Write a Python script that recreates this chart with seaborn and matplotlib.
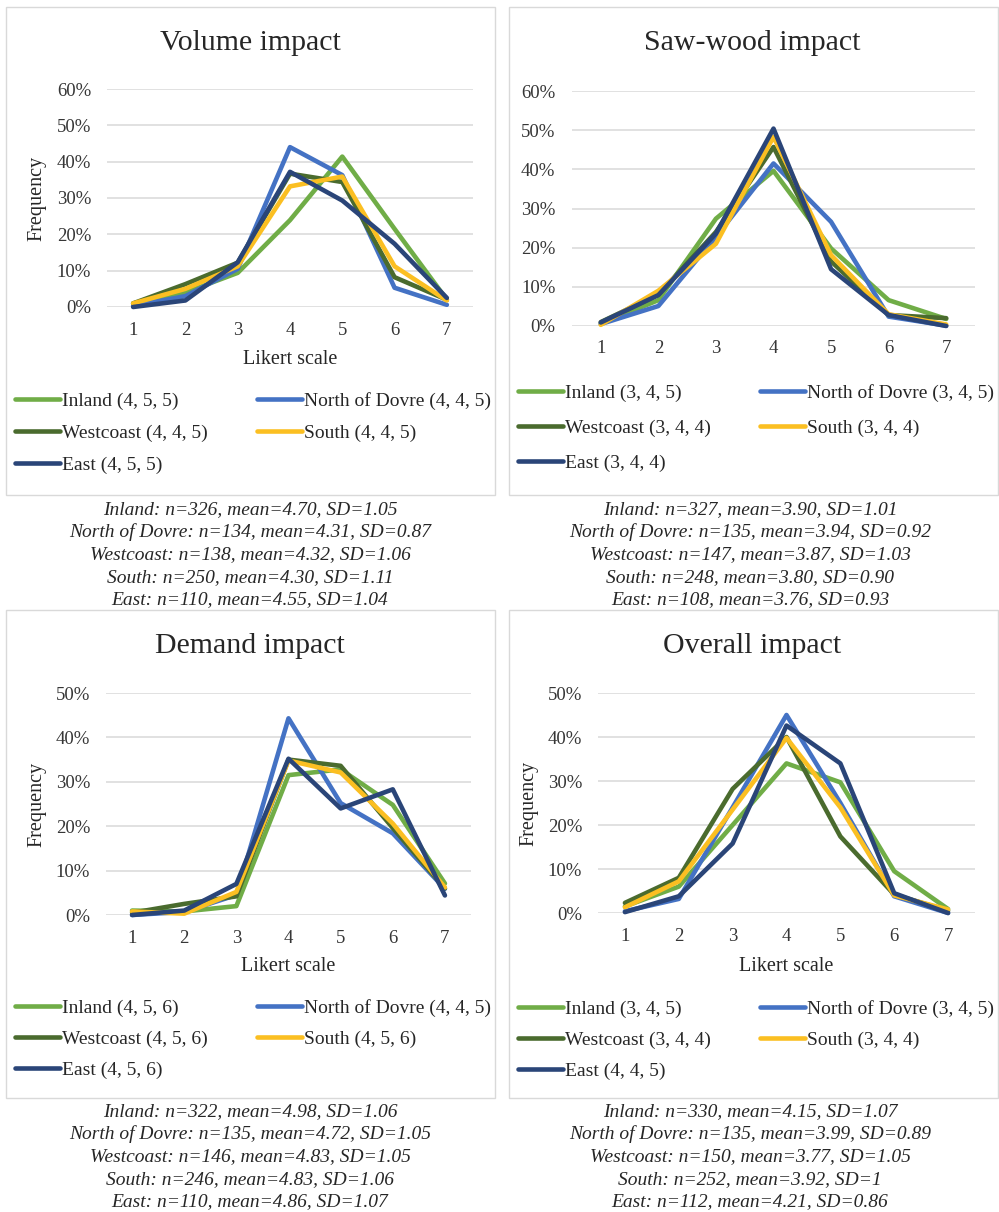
import numpy as np
import pandas as pd
import seaborn as sns
import matplotlib
matplotlib.use("Agg")
import matplotlib.pyplot as plt
from matplotlib.lines import Line2D
from matplotlib.patches import Rectangle
from matplotlib.ticker import PercentFormatter

sns.set_theme(style="white")
plt.rcParams["font.family"] = ["Liberation Serif", "DejaVu Serif"]

# ---------------------------------------------------------------- data
LIKERT = [1, 2, 3, 4, 5, 6, 7]
REGIONS = ["Inland", "North of Dovre", "Westcoast", "South", "East"]
COLORS = ["#70AD47", "#4472C4", "#4A6B2E", "#FBBF22", "#2A4578"]

# share of respondents (%) per Likert score, one list per region
VOLUME = {
    "Inland":         [1.0, 4.0, 9.4, 23.9, 41.4, 21.5, 2.0],
    "North of Dovre": [0.3, 3.0, 10.5, 44.0, 36.3, 5.3, 0.6],
    "Westcoast":      [1.0, 6.3, 12.2, 36.7, 34.4, 8.2, 2.0],
    "South":          [1.0, 5.0, 11.2, 33.2, 35.9, 11.2, 1.8],
    "East":           [0.0, 1.8, 12.3, 37.2, 29.3, 17.4, 2.5],
}
SAWWOOD = {
    "Inland":         [0.6, 6.6, 27.4, 39.6, 19.8, 6.6, 1.8],
    "North of Dovre": [0.5, 5.1, 22.8, 41.5, 26.6, 2.4, 0.1],
    "Westcoast":      [1.0, 8.0, 24.0, 45.7, 16.5, 2.8, 2.0],
    "South":          [0.3, 9.0, 21.0, 48.3, 18.1, 3.0, 0.4],
    "East":           [0.9, 7.9, 23.6, 50.4, 14.5, 2.8, 0.0],
}
DEMAND = {
    "Inland":         [1.0, 0.8, 2.0, 31.5, 32.8, 24.8, 7.1],
    "North of Dovre": [0.0, 0.7, 4.5, 44.3, 25.2, 18.4, 5.9],
    "Westcoast":      [0.5, 2.5, 4.2, 35.0, 33.6, 19.6, 6.0],
    "South":          [0.8, 0.3, 5.2, 34.8, 32.1, 20.6, 6.2],
    "East":           [0.0, 1.0, 7.0, 35.2, 24.0, 28.3, 4.4],
}
OVERALL = {
    "Inland":         [1.5, 6.0, 20.0, 34.0, 29.7, 9.5, 0.9],
    "North of Dovre": [0.4, 3.2, 24.0, 45.0, 25.0, 3.8, 0.0],
    "Westcoast":      [2.3, 8.0, 28.2, 40.0, 17.4, 4.2, 0.5],
    "South":          [1.3, 7.2, 23.5, 39.8, 24.0, 4.0, 0.8],
    "East":           [0.2, 3.8, 15.8, 42.6, 34.0, 4.5, 0.0],
}

# quartiles (Q1, median, Q3) shown in the legend
VOLUME_Q = ["(4, 5, 5)", "(4, 4, 5)", "(4, 4, 5)", "(4, 4, 5)", "(4, 5, 5)"]
SAWWOOD_Q = ["(3, 4, 5)", "(3, 4, 5)", "(3, 4, 4)", "(3, 4, 4)", "(3, 4, 4)"]
DEMAND_Q = ["(4, 5, 6)", "(4, 4, 5)", "(4, 5, 6)", "(4, 5, 6)", "(4, 5, 6)"]
OVERALL_Q = ["(3, 4, 5)", "(3, 4, 5)", "(3, 4, 4)", "(3, 4, 4)", "(4, 4, 5)"]

VOLUME_STATS = [
    "Inland: n=326, mean=4.70, SD=1.05",
    "North of Dovre: n=134, mean=4.31, SD=0.87",
    "Westcoast: n=138, mean=4.32, SD=1.06",
    "South: n=250, mean=4.30, SD=1.11",
    "East: n=110, mean=4.55, SD=1.04",
]
SAWWOOD_STATS = [
    "Inland: n=327, mean=3.90, SD=1.01",
    "North of Dovre: n=135, mean=3.94, SD=0.92",
    "Westcoast: n=147, mean=3.87, SD=1.03",
    "South: n=248, mean=3.80, SD=0.90",
    "East: n=108, mean=3.76, SD=0.93",
]
DEMAND_STATS = [
    "Inland: n=322, mean=4.98, SD=1.06",
    "North of Dovre: n=135, mean=4.72, SD=1.05",
    "Westcoast: n=146, mean=4.83, SD=1.05",
    "South: n=246, mean=4.83, SD=1.06",
    "East: n=110, mean=4.86, SD=1.07",
]
OVERALL_STATS = [
    "Inland: n=330, mean=4.15, SD=1.07",
    "North of Dovre: n=135, mean=3.99, SD=0.89",
    "Westcoast: n=150, mean=3.77, SD=1.05",
    "South: n=252, mean=3.92, SD=1",
    "East: n=112, mean=4.21, SD=0.86",
]

TITLES = ["Volume impact", "Saw-wood impact", "Demand impact", "Overall impact"]
PANEL_DATA = [VOLUME, SAWWOOD, DEMAND, OVERALL]
PANEL_Q = [VOLUME_Q, SAWWOOD_Q, DEMAND_Q, OVERALL_Q]
PANEL_STATS = [VOLUME_STATS, SAWWOOD_STATS, DEMAND_STATS, OVERALL_STATS]
Y_MAX = [0.6, 0.6, 0.5, 0.5]

# ---------------------------------------------------------------- layout (pixels)
W, H = 999, 1212
TEXT = "#262626"

LAYOUT = [
    dict(frame=(6, 7, 495, 495), axes=(107, 89, 473, 307), title=(250, 42),
         ylabel=46, xlabel=350, ytick_pad=11.5, xtick_pad=11,
         legend_x=(15, 257), legend_rows=(401, 433, 465), stats=(250, 510)),
    dict(frame=(509, 7, 998, 495), axes=(572, 91, 975, 326), title=(752, 42),
         ylabel=None, xlabel=None, ytick_pad=12, xtick_pad=10,
         legend_x=(518, 760), legend_rows=(393, 428, 463), stats=(750, 510)),
    dict(frame=(6, 610, 495, 1098), axes=(106, 693, 471, 915), title=(250, 645),
         ylabel=46, xlabel=957, ytick_pad=11.5, xtick_pad=11,
         legend_x=(15, 257), legend_rows=(1008, 1039, 1070), stats=(250, 1112)),
    dict(frame=(509, 610, 998, 1098), axes=(598, 693, 975, 913), title=(752, 645),
         ylabel=538, xlabel=957, ytick_pad=11.5, xtick_pad=11,
         legend_x=(518, 760), legend_rows=(1009, 1040, 1070), stats=(750, 1112)),
]


def fx(x):
    return x / W


def fy(y):
    return 1 - y / H


fig = plt.figure(figsize=(W / 100, H / 100), dpi=100, facecolor="white")

for title, data, quart, stats, ymax, lay in zip(
        TITLES, PANEL_DATA, PANEL_Q, PANEL_STATS, Y_MAX, LAYOUT):
    # chart frame
    x0, y0, x1, y1 = lay["frame"]
    fig.add_artist(Rectangle((fx(x0), fy(y1)), (x1 - x0) / W, (y1 - y0) / H,
                             transform=fig.transFigure, fill=False,
                             edgecolor="#D9D9D9", linewidth=1.0))

    l, t, r, b = lay["axes"]
    ax = fig.add_axes([fx(l), fy(b), (r - l) / W, (b - t) / H])

    df = pd.DataFrame([
        {"region": reg, "score": s, "share": v / 100}
        for reg in REGIONS for s, v in zip(LIKERT, data[reg])
    ])
    sns.lineplot(data=df, x="score", y="share", hue="region",
                 hue_order=REGIONS, palette=COLORS, linewidth=3.3,
                 estimator=None, sort=False, legend=False, ax=ax)
    for ln in ax.lines:
        ln.set_clip_on(False)
        ln.set_solid_joinstyle("round")
        ln.set_solid_capstyle("round")

    ax.set_xlim(0.5, 7.5)
    ax.set_ylim(0, ymax)
    ax.set_xticks(LIKERT)
    ax.set_yticks(np.round(np.arange(0, ymax + 1e-9, 0.1), 2))
    ax.yaxis.set_major_formatter(PercentFormatter(1.0, decimals=0))
    ax.set_axisbelow(True)
    ax.grid(axis="y", color="#D9D9D9", linewidth=1.1)
    ax.grid(axis="x", visible=False)
    for sp in ax.spines.values():
        sp.set_visible(False)
    ax.tick_params(axis="y", length=0, labelsize=13.5, labelcolor="#363636",
                   pad=lay["ytick_pad"])
    ax.tick_params(axis="x", length=0, labelsize=13.5, labelcolor="#363636",
                   pad=lay["xtick_pad"])

    if lay["ylabel"] is not None:
        ax.set_ylabel("Frequency", fontsize=14.5, color=TEXT)
        ax.yaxis.set_label_coords(fx(lay["ylabel"]), fy((t + b) / 2),
                                  transform=fig.transFigure)
    else:
        ax.set_ylabel("")
    if lay["xlabel"] is not None:
        ax.set_xlabel("Likert scale", fontsize=14.5, color=TEXT)
        ax.xaxis.set_label_coords(fx((l + r) / 2), fy(lay["xlabel"]),
                                  transform=fig.transFigure)
    else:
        ax.set_xlabel("")

    fig.text(fx(lay["title"][0]), fy(lay["title"][1] + 1), title, ha="center",
             va="center", fontsize=21.5, color=TEXT)

    # legend: two columns laid out row by row
    handles = [Line2D([], [], color=c, linewidth=3.3, solid_capstyle="round")
               for c in COLORS]
    labels = [f"{reg} {q}" for reg, q in zip(REGIONS, quart)]
    rows = lay["legend_rows"]
    step = rows[1] - rows[0]
    spacing = (step - 18.0) / 19.4
    common = dict(frameon=False, fontsize=14, handlelength=2.3,
                  handletextpad=0.1, borderpad=0, borderaxespad=0,
                  labelspacing=spacing, loc="center left",
                  bbox_transform=fig.transFigure, labelcolor=TEXT)
    leg1 = ax.legend([handles[i] for i in (0, 2, 4)],
                     [labels[i] for i in (0, 2, 4)],
                     bbox_to_anchor=(fx(lay["legend_x"][0]), fy(rows[1])),
                     **common)
    ax.add_artist(leg1)
    ax.legend([handles[i] for i in (1, 3)], [labels[i] for i in (1, 3)],
              bbox_to_anchor=(fx(lay["legend_x"][1]), fy((rows[0] + rows[1]) / 2)),
              **common)

    sx, sy = lay["stats"]
    for i, line in enumerate(stats):
        fig.text(fx(sx), fy(sy + i * 22.5), line, ha="center", va="center",
                 fontsize=14, style="italic", color=TEXT)

fig.savefig("out.png", dpi=100, facecolor="white")
